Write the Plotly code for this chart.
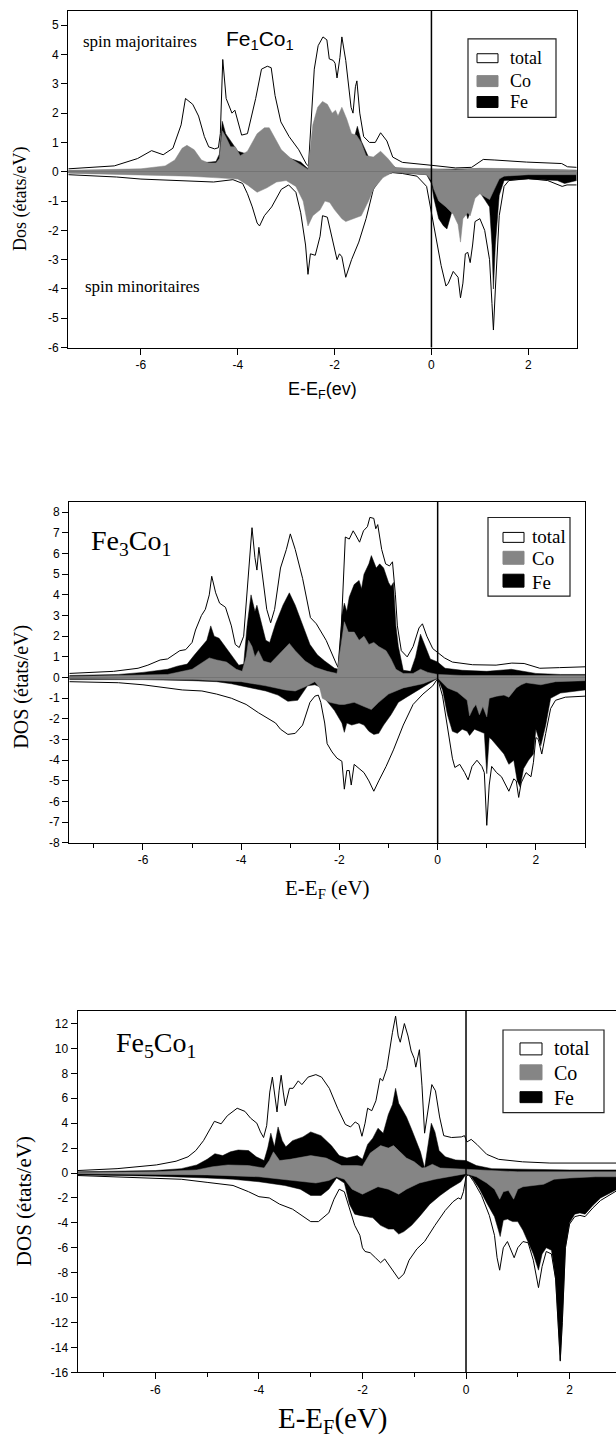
import plotly.graph_objects as go

# ---------------- DATA (energy E-EF in eV, DOS in states/eV) ----------------
# Panel 1 : Fe1Co1
p1_tot_up = [(-7.5,0.1),(-6.55,0.2),(-6.07,0.45),(-5.78,0.72),(-5.54,0.58),(-5.34,0.8),(-5.17,1.6),(-5.08,2.5),(-4.93,2.3),(-4.81,1.9),(-4.69,1.2),(-4.6,0.85),(-4.48,0.78),(-4.4,0.82),(-4.36,1.3),(-4.31,3.83),(-4.24,2.5),(-4.12,2.0),(-4.06,2.1),(-4.0,1.7),(-3.92,1.25),(-3.8,1.3),(-3.63,2.5),(-3.51,3.5),(-3.39,3.6),(-3.31,3.55),(-3.23,2.6),(-3.11,1.7),(-2.94,1.2),(-2.74,0.75),(-2.58,0.25),(-2.54,0.2),(-2.42,3.5),(-2.34,4.3),(-2.24,4.6),(-2.16,4.5),(-2.11,3.85),(-2.03,3.8),(-1.99,3.7),(-1.95,3.2),(-1.89,3.9),(-1.85,4.6),(-1.77,3.8),(-1.66,2.2),(-1.62,2.0),(-1.57,2.9),(-1.54,3.1),(-1.48,2.0),(-1.4,1.2),(-1.28,1.0),(-1.16,1.0),(-1.05,1.33),(-0.92,1.05),(-0.8,0.5),(-0.6,0.32),(0.0,0.22),(0.26,0.17),(0.5,0.13),(0.83,0.15),(0.95,0.3),(1.07,0.42),(1.31,0.4),(1.96,0.33),(2.69,0.28),(2.81,0.17),(3.0,0.15)]
p1_co_up = [(-7.5,0.05),(-6.5,0.08),(-6,0.1),(-5.5,0.2),(-5.3,0.4),(-5.15,0.8),(-5.05,0.9),(-4.9,0.75),(-4.75,0.4),(-4.6,0.3),(-4.45,0.3),(-4.38,0.45),(-4.32,1.4),(-4.25,1.2),(-4.15,0.85),(-4.05,0.85),(-3.95,0.55),(-3.8,0.7),(-3.6,1.3),(-3.45,1.5),(-3.35,1.5),(-3.25,1.2),(-3.1,0.75),(-2.9,0.45),(-2.7,0.25),(-2.55,0.08),(-2.45,1.6),(-2.35,2.2),(-2.25,2.4),(-2.15,2.3),(-2.05,2.0),(-1.98,2.1),(-1.93,1.9),(-1.85,2.2),(-1.75,1.8),(-1.65,1.3),(-1.55,1.25),(-1.45,1.0),(-1.35,0.55),(-1.2,0.5),(-1.05,0.7),(-0.9,0.45),(-0.75,0.15),(-0.5,0.12),(0,0.1),(0.5,0.07),(1.0,0.12),(1.5,0.12),(2.0,0.1),(3.0,0.05)]
p1_fe_up = [(-7.5,0.03),(-6,0.06),(-5.3,0.2),(-5.05,0.4),(-4.75,0.3),(-4.45,0.35),(-4.38,0.6),(-4.32,1.72),(-4.25,1.3),(-4.1,0.95),(-4.0,0.7),(-3.8,0.6),(-3.5,0.9),(-3.2,0.8),(-3.0,0.5),(-2.7,0.33),(-2.55,0.1),(-2.45,1.0),(-2.3,1.5),(-2.0,1.5),(-1.75,1.1),(-1.62,1.0),(-1.53,1.55),(-1.45,1.05),(-1.3,0.5),(-1.0,0.4),(-0.7,0.1),(0,0.08),(1.0,0.1),(3.0,0.05)]
p1_tot_dn = [(-7.5,-0.1),(-6.5,-0.18),(-6,-0.25),(-5,-0.33),(-4.5,-0.35),(-4.1,-0.27),(-3.9,-0.4),(-3.8,-0.75),(-3.7,-1.2),(-3.6,-1.75),(-3.55,-1.85),(-3.45,-1.5),(-3.3,-1.2),(-3.1,-0.6),(-2.95,-0.45),(-2.8,-0.7),(-2.7,-1.4),(-2.6,-2.5),(-2.55,-3.5),(-2.5,-2.8),(-2.4,-2.85),(-2.3,-2.2),(-2.25,-1.5),(-2.15,-1.55),(-2.05,-2.3),(-1.95,-3.0),(-1.9,-2.8),(-1.85,-2.9),(-1.77,-3.6),(-1.65,-3.0),(-1.5,-2.4),(-1.35,-1.6),(-1.2,-0.6),(-1.0,-0.12),(-0.8,-0.03),(-0.6,-0.06),(-0.3,-0.15),(-0.1,-0.5),(0,-1.4),(0.1,-2.3),(0.2,-3.2),(0.3,-3.9),(0.35,-3.8),(0.45,-3.4),(0.55,-3.6),(0.6,-4.3),(0.65,-3.8),(0.7,-2.8),(0.75,-2.75),(0.8,-3.1),(0.85,-2.5),(0.9,-1.7),(1.0,-1.6),(1.1,-2.0),(1.2,-3.0),(1.25,-4.5),(1.28,-5.4),(1.32,-4.0),(1.4,-1.5),(1.5,-0.5),(1.6,-0.3),(2.0,-0.23),(2.4,-0.3),(2.7,-0.5),(2.8,-0.45),(3.0,-0.45)]
p1_co_dn = [(-7.5,-0.05),(-6,-0.1),(-5,-0.15),(-4.5,-0.2),(-4.0,-0.25),(-3.8,-0.45),(-3.6,-0.7),(-3.4,-0.55),(-3.2,-0.35),(-3.0,-0.3),(-2.8,-0.5),(-2.65,-1.0),(-2.55,-1.85),(-2.45,-1.5),(-2.3,-1.3),(-2.2,-1.0),(-2.1,-1.05),(-2.0,-1.3),(-1.85,-1.6),(-1.77,-1.7),(-1.6,-1.6),(-1.45,-1.5),(-1.3,-1.0),(-1.2,-0.6),(-1.0,-0.2),(-0.8,-0.02),(-0.5,-0.05),(-0.1,-0.1),(0,-0.3),(0.05,-0.6),(0.15,-1.0),(0.3,-1.2),(0.45,-1.45),(0.55,-1.8),(0.6,-2.4),(0.65,-1.6),(0.75,-1.4),(0.8,-1.5),(0.9,-0.9),(1.0,-0.75),(1.1,-0.85),(1.2,-0.95),(1.3,-0.6),(1.4,-0.25),(1.5,-0.15),(2,-0.1),(3,-0.1)]
p1_fe_dn = [(-7.5,-0.03),(-5,-0.1),(-4,-0.2),(-3,-0.25),(-2.5,-0.6),(-2,-0.8),(-1.5,-0.6),(-1,-0.1),(-0.8,-0.02),(-0.1,-0.1),(0,-0.4),(0.05,-0.9),(0.15,-1.6),(0.25,-1.85),(0.32,-1.95),(0.38,-1.6),(0.45,-1.2),(0.55,-1.0),(0.7,-1.3),(0.75,-1.6),(0.82,-1.3),(0.9,-0.65),(1.0,-0.7),(1.1,-0.95),(1.2,-1.2),(1.25,-2.5),(1.28,-4.0),(1.32,-2.5),(1.4,-0.8),(1.5,-0.3),(2,-0.25),(2.6,-0.3),(2.75,-0.4),(3,-0.3)]

# Panel 2 : Fe3Co1
p2_tot_up = [(-7.5,0.2),(-6.6,0.3),(-6.1,0.45),(-5.9,0.6),(-5.65,0.85),(-5.5,0.9),(-5.25,1.3),(-5.13,1.35),(-5.0,1.7),(-4.93,2.3),(-4.81,3.0),(-4.73,3.3),(-4.65,4.0),(-4.6,4.9),(-4.52,4.1),(-4.44,3.6),(-4.32,3.4),(-4.2,2.5),(-4.12,1.6),(-4.04,1.45),(-3.95,2.0),(-3.86,5.0),(-3.78,7.25),(-3.72,5.8),(-3.68,5.2),(-3.64,6.3),(-3.56,4.8),(-3.48,3.3),(-3.4,2.65),(-3.32,3.3),(-3.2,5.3),(-3.08,6.2),(-3.0,6.95),(-2.9,6.2),(-2.75,4.8),(-2.59,2.9),(-2.47,2.6),(-2.27,1.8),(-2.07,0.7),(-2.03,0.5),(-1.96,2.5),(-1.88,6.8),(-1.8,6.7),(-1.72,7.1),(-1.67,6.9),(-1.59,6.55),(-1.51,7.1),(-1.43,7.3),(-1.38,7.75),(-1.3,7.7),(-1.26,7.2),(-1.22,7.4),(-1.14,6.2),(-1.06,5.5),(-0.98,5.4),(-0.92,5.6),(-0.86,4.0),(-0.82,2.5),(-0.74,1.3),(-0.62,1.0),(-0.5,1.5),(-0.38,2.4),(-0.31,2.6),(-0.22,2.0),(-0.1,1.4),(0,1.2),(0.14,0.95),(0.3,0.75),(0.71,0.62),(1.19,0.6),(1.51,0.7),(1.76,0.68),(2.08,0.45),(2.48,0.48),(3.0,0.52)]
p2_co_up = [(-7.5,0.05),(-6,0.1),(-5.5,0.15),(-5,0.4),(-4.8,0.7),(-4.65,0.95),(-4.5,0.85),(-4.3,0.75),(-4.1,0.4),(-3.98,0.3),(-3.9,1.0),(-3.85,1.8),(-3.78,1.5),(-3.72,1.0),(-3.65,1.3),(-3.55,0.8),(-3.4,0.7),(-3.2,1.2),(-3.02,1.65),(-2.9,1.3),(-2.7,0.8),(-2.5,0.5),(-2.25,0.3),(-2.05,0.2),(-1.98,1.5),(-1.9,2.7),(-1.82,2.2),(-1.7,2.2),(-1.6,1.8),(-1.5,2.0),(-1.4,1.6),(-1.3,1.7),(-1.2,1.5),(-1.05,1.3),(-0.95,0.9),(-0.85,0.4),(-0.7,0.2),(-0.5,0.2),(-0.35,0.4),(-0.2,0.25),(0,0.15),(0.5,0.1),(1.5,0.1),(3.0,0.1)]
p2_fe_up = [(-7.5,0.1),(-6.5,0.15),(-6,0.25),(-5.5,0.4),(-5.3,0.55),(-5.1,0.65),(-4.95,1.1),(-4.8,1.55),(-4.7,1.8),(-4.62,2.5),(-4.55,2.0),(-4.45,1.9),(-4.3,1.4),(-4.15,0.95),(-4.05,0.6),(-3.95,0.65),(-3.88,2.5),(-3.8,4.0),(-3.72,3.2),(-3.68,3.5),(-3.6,2.8),(-3.5,1.8),(-3.42,1.7),(-3.3,2.6),(-3.15,3.5),(-3.02,4.1),(-2.9,3.5),(-2.75,2.5),(-2.6,1.6),(-2.45,1.1),(-2.3,0.8),(-2.1,0.45),(-2.02,0.4),(-1.95,3.0),(-1.9,3.6),(-1.85,3.2),(-1.8,3.9),(-1.7,4.5),(-1.6,4.7),(-1.55,4.3),(-1.5,5.0),(-1.4,5.5),(-1.35,5.9),(-1.25,5.3),(-1.18,5.5),(-1.1,5.3),(-1.0,4.6),(-0.95,4.4),(-0.9,4.6),(-0.85,2.5),(-0.8,1.5),(-0.7,0.35),(-0.55,0.3),(-0.45,1.0),(-0.35,2.1),(-0.25,1.5),(-0.15,0.9),(0,0.75),(0.15,0.45),(0.5,0.35),(1.0,0.3),(1.5,0.4),(2.0,0.2),(2.5,0.15),(3.0,0.15)]
p2_tot_dn = [(-7.5,-0.2),(-6.5,-0.25),(-6.0,-0.35),(-5.5,-0.5),(-5.2,-0.6),(-4.8,-0.65),(-4.5,-0.8),(-4.2,-1.0),(-3.9,-1.3),(-3.65,-1.7),(-3.45,-2.0),(-3.3,-2.2),(-3.2,-2.5),(-3.05,-2.75),(-2.9,-2.7),(-2.75,-2.3),(-2.6,-1.2),(-2.5,-0.9),(-2.43,-0.85),(-2.38,-1.2),(-2.3,-2.2),(-2.25,-3.2),(-2.15,-3.6),(-2.05,-3.9),(-1.95,-4.05),(-1.9,-5.4),(-1.85,-4.5),(-1.8,-4.5),(-1.76,-5.2),(-1.7,-4.2),(-1.6,-4.4),(-1.5,-4.6),(-1.4,-5.0),(-1.3,-5.5),(-1.2,-5.0),(-1.05,-4.3),(-0.9,-3.5),(-0.7,-2.3),(-0.5,-1.3),(-0.3,-0.8),(-0.1,-0.4),(0,-0.05),(0.1,-0.9),(0.2,-2.3),(0.3,-3.9),(0.35,-4.35),(0.45,-4.2),(0.55,-4.6),(0.62,-4.95),(0.7,-4.3),(0.8,-4.0),(0.9,-4.3),(0.95,-4.6),(1.0,-7.15),(1.05,-5.2),(1.1,-4.3),(1.2,-4.6),(1.3,-4.8),(1.4,-5.3),(1.45,-5.5),(1.55,-4.9),(1.6,-5.0),(1.65,-5.8),(1.7,-5.1),(1.8,-4.6),(1.9,-4.8),(1.95,-4.1),(2.0,-2.9),(2.05,-3.0),(2.12,-3.7),(2.2,-2.7),(2.3,-1.5),(2.4,-1.1),(2.6,-0.95),(3.0,-0.9)]
p2_co_dn = [(-7.5,-0.05),(-6,-0.07),(-5,-0.1),(-4,-0.2),(-3.5,-0.4),(-3.1,-0.6),(-2.9,-0.65),(-2.7,-0.45),(-2.5,-0.2),(-2.4,-0.5),(-2.35,-1.0),(-2.2,-1.2),(-2.0,-1.3),(-1.9,-1.3),(-1.7,-1.2),(-1.5,-1.4),(-1.35,-1.55),(-1.2,-1.2),(-1.0,-0.8),(-0.7,-0.5),(-0.3,-0.3),(0,-0.02),(0.2,-0.5),(0.4,-0.7),(0.6,-1.1),(0.65,-1.85),(0.72,-1.5),(0.78,-1.3),(0.85,-1.8),(0.92,-1.4),(1.0,-1.9),(1.05,-1.0),(1.2,-0.9),(1.35,-0.85),(1.45,-0.95),(1.6,-0.5),(1.7,-0.35),(1.8,-0.25),(2.0,-0.3),(2.1,-0.35),(2.4,-0.2),(3.0,-0.15)]
p2_fe_dn = [(-7.5,-0.1),(-6,-0.1),(-5,-0.15),(-4.5,-0.2),(-4.2,-0.3),(-3.9,-0.45),(-3.5,-0.65),(-3.25,-0.85),(-3.05,-1.15),(-2.85,-1.1),(-2.65,-0.4),(-2.5,-0.35),(-2.4,-0.45),(-2.3,-1.0),(-2.2,-1.3),(-2.1,-1.6),(-1.95,-2.2),(-1.9,-2.65),(-1.85,-2.2),(-1.75,-2.3),(-1.6,-2.2),(-1.5,-2.3),(-1.4,-2.6),(-1.3,-2.75),(-1.2,-2.7),(-1.1,-2.3),(-0.95,-1.8),(-0.8,-1.2),(-0.6,-0.9),(-0.4,-0.6),(-0.2,-0.3),(0,-0.03),(0.1,-0.6),(0.2,-1.8),(0.3,-2.6),(0.4,-2.7),(0.5,-2.5),(0.6,-2.6),(0.65,-2.8),(0.75,-2.5),(0.85,-2.6),(0.95,-2.7),(1.0,-4.65),(1.05,-2.9),(1.1,-3.0),(1.2,-3.3),(1.35,-3.7),(1.45,-4.2),(1.55,-4.0),(1.62,-5.0),(1.68,-5.3),(1.75,-4.4),(1.85,-4.0),(1.95,-3.7),(2.0,-2.5),(2.05,-2.9),(2.1,-3.3),(2.2,-2.3),(2.3,-1.0),(2.5,-0.75),(3.0,-0.6)]

# Panel 3 : Fe5Co1
p3_tot_up = [(-7.5,0.2),(-6.74,0.35),(-5.98,0.65),(-5.6,0.95),(-5.37,1.3),(-5.22,1.8),(-5.07,2.6),(-4.95,3.5),(-4.86,4.15),(-4.73,3.95),(-4.61,4.6),(-4.42,5.2),(-4.27,4.95),(-4.16,4.4),(-4.04,4.0),(-3.97,3.3),(-3.91,2.85),(-3.85,3.8),(-3.79,6.5),(-3.74,7.7),(-3.7,6.5),(-3.65,4.9),(-3.61,6.6),(-3.57,7.85),(-3.53,6.5),(-3.49,5.4),(-3.41,6.8),(-3.34,6.8),(-3.24,7.4),(-3.17,7.1),(-3.05,7.7),(-2.9,7.9),(-2.79,7.7),(-2.64,6.8),(-2.48,5.2),(-2.33,3.9),(-2.23,3.7),(-2.14,4.1),(-2.07,3.9),(-2.01,2.95),(-1.95,4.0),(-1.9,5.2),(-1.82,5.0),(-1.74,5.8),(-1.66,7.6),(-1.61,7.4),(-1.53,8.4),(-1.46,10.5),(-1.42,11.3),(-1.36,12.6),(-1.31,11.0),(-1.27,10.5),(-1.19,12.0),(-1.12,11.0),(-1.06,9.8),(-1.0,9.2),(-0.97,8.5),(-0.9,9.9),(-0.85,7.0),(-0.8,3.2),(-0.74,5.0),(-0.66,7.1),(-0.59,6.6),(-0.51,4.5),(-0.43,3.0),(-0.28,2.85),(-0.09,2.9),(-0.03,3.0),(0.02,2.5),(0.1,2.7),(0.21,2.3),(0.4,1.5),(0.63,1.1),(1.09,0.9),(1.62,0.8),(2.9,0.8)]
p3_co_up = [(-7.5,0.05),(-6,0.1),(-5.2,0.25),(-4.9,0.5),(-4.6,0.65),(-4.2,0.6),(-3.9,0.4),(-3.8,1.0),(-3.72,1.7),(-3.6,1.0),(-3.4,1.1),(-3.0,1.4),(-2.7,1.2),(-2.4,0.6),(-2.1,0.6),(-2.0,0.55),(-1.85,1.6),(-1.65,2.2),(-1.5,2.0),(-1.4,2.2),(-1.3,1.8),(-1.15,1.2),(-1.0,0.9),(-0.85,0.4),(-0.78,0.45),(-0.65,0.7),(-0.5,0.4),(0,0.3),(0.5,0.15),(1,0.1),(2.9,0.1)]
p3_fe_up = [(-7.5,0.1),(-6,0.2),(-5.5,0.35),(-5.2,0.65),(-5.0,1.1),(-4.85,1.55),(-4.7,1.4),(-4.55,1.7),(-4.4,1.85),(-4.2,1.8),(-4.05,1.3),(-3.9,1.0),(-3.83,2.0),(-3.77,3.2),(-3.7,2.1),(-3.63,3.7),(-3.55,2.6),(-3.48,2.1),(-3.35,2.6),(-3.15,2.9),(-3.0,3.3),(-2.8,3.0),(-2.6,2.2),(-2.45,1.4),(-2.3,1.2),(-2.1,1.4),(-2.0,1.1),(-1.9,2.3),(-1.8,2.8),(-1.7,3.6),(-1.6,3.2),(-1.5,4.7),(-1.42,5.5),(-1.36,6.8),(-1.3,5.6),(-1.22,5.0),(-1.15,4.5),(-1.05,3.5),(-0.95,2.5),(-0.88,1.7),(-0.8,0.4),(-0.73,2.5),(-0.67,4.0),(-0.6,3.3),(-0.52,1.8),(-0.4,1.3),(-0.2,1.05),(0,1.0),(0.2,0.6),(0.5,0.35),(1,0.3),(2,0.25),(2.9,0.25)]
p3_tot_dn = [(-7.5,-0.2),(-6.5,-0.35),(-5.5,-0.5),(-5.0,-0.75),(-4.5,-1.0),(-4.2,-1.5),(-4.0,-1.9),(-3.8,-2.0),(-3.6,-2.5),(-3.35,-2.9),(-3.15,-3.5),(-3.0,-3.9),(-2.85,-3.9),(-2.65,-3.2),(-2.55,-2.1),(-2.45,-1.3),(-2.35,-1.5),(-2.25,-2.8),(-2.15,-4.2),(-2.05,-5.0),(-2.0,-6.0),(-1.95,-6.3),(-1.85,-6.4),(-1.75,-6.8),(-1.65,-7.2),(-1.57,-6.9),(-1.5,-7.3),(-1.4,-7.9),(-1.3,-8.5),(-1.2,-8.1),(-1.1,-7.0),(-0.95,-6.1),(-0.8,-5.5),(-0.6,-4.2),(-0.4,-3.0),(-0.25,-2.3),(-0.15,-2.0),(-0.1,-2.1),(-0.05,-1.5),(0.0,-0.3),(0.05,-0.1),(0.15,-0.7),(0.3,-1.8),(0.45,-3.4),(0.55,-5.0),(0.6,-6.8),(0.65,-7.8),(0.72,-6.0),(0.8,-5.5),(0.85,-6.0),(0.93,-6.8),(1.0,-6.0),(1.1,-5.5),(1.2,-5.6),(1.3,-7.0),(1.4,-9.2),(1.47,-7.5),(1.55,-6.3),(1.65,-6.5),(1.73,-8.5),(1.78,-12.0),(1.82,-15.1),(1.86,-12.0),(1.92,-6.0),(2.0,-4.1),(2.1,-3.5),(2.2,-3.4),(2.3,-3.5),(2.45,-2.8),(2.6,-2.2),(2.9,-1.45)]
p3_co_dn = [(-7.5,-0.05),(-6,-0.1),(-5,-0.15),(-4,-0.3),(-3.5,-0.5),(-3.1,-0.7),(-2.9,-0.8),(-2.65,-0.6),(-2.5,-0.3),(-2.35,-0.5),(-2.2,-1.3),(-2.0,-1.7),(-1.85,-1.4),(-1.7,-1.1),(-1.5,-1.3),(-1.3,-1.7),(-1.15,-1.3),(-0.9,-0.8),(-0.6,-0.5),(-0.3,-0.3),(0,-0.05),(0.2,-0.3),(0.4,-0.8),(0.55,-1.3),(0.65,-2.1),(0.72,-1.5),(0.82,-1.4),(0.92,-2.1),(1.0,-1.3),(1.1,-1.1),(1.3,-1.0),(1.5,-0.9),(1.7,-0.5),(2.0,-0.4),(2.5,-0.3),(2.9,-0.3)]
p3_fe_dn = [(-7.5,-0.15),(-6,-0.25),(-5,-0.4),(-4.5,-0.5),(-4.0,-0.7),(-3.5,-1.0),(-3.2,-1.3),(-3.0,-1.8),(-2.8,-1.8),(-2.65,-1.3),(-2.5,-0.4),(-2.35,-0.8),(-2.25,-2.5),(-2.15,-3.3),(-2.05,-3.4),(-1.95,-3.5),(-1.8,-3.6),(-1.65,-4.2),(-1.5,-4.5),(-1.4,-4.5),(-1.3,-4.9),(-1.2,-4.7),(-1.05,-4.2),(-0.9,-3.5),(-0.7,-2.5),(-0.5,-1.8),(-0.3,-1.2),(-0.1,-0.7),(0,-0.1),(0.1,-0.3),(0.25,-1.2),(0.4,-2.4),(0.55,-3.5),(0.62,-4.5),(0.66,-5.1),(0.72,-3.8),(0.8,-3.7),(0.9,-3.9),(1.0,-3.9),(1.1,-4.6),(1.2,-5.5),(1.3,-6.5),(1.4,-7.8),(1.47,-6.5),(1.55,-6.0),(1.65,-6.2),(1.73,-8.5),(1.78,-12.0),(1.82,-15.0),(1.86,-12.0),(1.92,-6.0),(2.0,-4.0),(2.1,-3.3),(2.2,-3.2),(2.3,-3.3),(2.45,-2.6),(2.6,-2.0),(2.9,-1.35)]

legend_labels = ["total", "Co", "Fe"]
p1_xticks = [-6, -4, -2, 0, 2]
p1_yticks = list(range(-6, 6))
p2_xticks = [-6, -4, -2, 0, 2]
p2_yticks = list(range(-8, 9))
p3_xticks = [-6, -4, -2, 0, 2]
p3_yticks = list(range(-16, 13, 2))
minor_xticks = [-7, -5, -3, -1, 1, 3]

# ---------------- LAYOUT HELPERS ----------------
W, H = 616, 1448
def px(x):
    return x / W
def py(y):
    return 1 - y / H

SERIF = "Liberation Serif, Times New Roman, serif"
SANS = "Liberation Sans, Arial, sans-serif"
GRAY = "#858585"
SWATCH_FILL = {"total": "white", "Co": GRAY, "Fe": "black"}

fig = go.Figure()

panels = [
    dict(n="", data=(p1_tot_up, p1_tot_dn, p1_fe_up, p1_fe_dn, p1_co_up, p1_co_dn)),
    dict(n="2", data=(p2_tot_up, p2_tot_dn, p2_fe_up, p2_fe_dn, p2_co_up, p2_co_dn)),
    dict(n="3", data=(p3_tot_up, p3_tot_dn, p3_fe_up, p3_fe_dn, p3_co_up, p3_co_dn)),
]

def xy(pairs):
    return [p[0] for p in pairs], [p[1] for p in pairs]

for p in panels:
    xa, ya = "x" + p["n"], "y" + p["n"]
    tu, td, fu, fd, cu, cd = p["data"]
    for pairs, name in ((tu, "total"), (td, "total")):
        x, y = xy(pairs)
        fig.add_trace(go.Scatter(x=x, y=y, mode="lines", fill="tozeroy", fillcolor="white", name=name,
                                 line=dict(color="black", width=1), showlegend=False,
                                 xaxis=xa, yaxis=ya, hoverinfo="skip"))
    for pairs in (fu, fd):
        x, y = xy(pairs)
        fig.add_trace(go.Scatter(x=x, y=y, mode="lines", fill="tozeroy", fillcolor="black", name="Fe",
                                 line=dict(color="black", width=0.5), showlegend=False,
                                 xaxis=xa, yaxis=ya, hoverinfo="skip"))
    for pairs in (cu, cd):
        x, y = xy(pairs)
        fig.add_trace(go.Scatter(x=x, y=y, mode="lines", fill="tozeroy", fillcolor=GRAY, name="Co",
                                 line=dict(color=GRAY, width=0.5), showlegend=False,
                                 xaxis=xa, yaxis=ya, hoverinfo="skip"))

def axis(domain, rng, ticks, mirror=True, minor=None):
    d = dict(domain=domain, range=rng, tickmode="array", tickvals=ticks,
             ticktext=[str(t) for t in ticks], showline=True, linecolor="black",
             linewidth=1.3, mirror=mirror, ticks="outside", ticklen=6, tickwidth=1.2,
             tickcolor="black", showgrid=False, zeroline=False, fixedrange=True,
             tickfont=dict(family=SANS, size=12, color="black"))
    if minor:
        d["minor"] = dict(tickmode="array", tickvals=minor, ticks="outside", ticklen=4,
                          tickwidth=1.2, tickcolor="black", showgrid=False)
    return d

fig.update_layout(
    width=W, height=H, margin=dict(l=0, r=0, t=0, b=0),
    paper_bgcolor="white", plot_bgcolor="white", showlegend=False,
    xaxis=dict(axis([px(68.3), px(576.7)], [-7.5, 3.0], p1_xticks), anchor="y"),
    yaxis=dict(axis([py(349.3), py(11)], [-6, 5.486], p1_yticks), anchor="x"),
    xaxis2=dict(axis([px(69.3), px(585)], [-7.5, 3.0], p2_xticks, minor=minor_xticks), anchor="y2"),
    yaxis2=dict(axis([py(847), py(504.3)], [-8, 8.5], p2_yticks), anchor="x2"),
    xaxis3=dict(axis([px(77.7), 1.0], [-7.5, 2.897], p3_xticks, minor=minor_xticks), anchor="y3"),
    yaxis3=dict(axis([py(1379), py(1016)], [-16, 13.0], p3_yticks, mirror=False), anchor="x3"),
)

# Fermi level lines
for n in ["", "2", "3"]:
    fig.add_shape(type="line", xref="x" + n, yref="y" + n + " domain", x0=0, x1=0, y0=0, y1=1,
                  line=dict(color="black", width=1.5))

def ann(text, x, y, size, family, xanchor="center", angle=0):
    fig.add_annotation(text=text, x=px(x), y=py(y), xref="paper", yref="paper",
                       xanchor=xanchor, yanchor="middle", showarrow=False, textangle=angle,
                       font=dict(family=family, size=size, color="black"))

def rect(x0, y0, x1, y1, fill, line_color, lw):
    fig.add_shape(type="rect", xref="paper", yref="paper", x0=px(x0), x1=px(x1), y0=py(y1), y1=py(y0),
                  fillcolor=fill, line=dict(color=line_color, width=lw), layer="above")

# legend boxes: (box x0, y0, x1, y1), swatch x-range, swatch y-ranges, text x, text y centres, font size
legends = [
    ((468, 39, 556, 118), (477, 498), [(54, 63), (76, 87), (97, 108)], 508, [58.5, 81.5, 102.5], 18),
    ((488, 520, 570, 599), (503, 524), [(535, 545), (554, 567), (577, 590)], 529.5, [539, 561, 585], 19),
    ((503, 1035, 604, 1118), (520, 542), [(1048, 1060), (1070, 1085), (1097, 1108)], 552, [1053, 1078, 1103], 20),
]
for box, (sx0, sx1), srows, tx, trows, fs in legends:
    rect(box[0], box[1], box[2], box[3], "white", "#222", 1.2)
    for lab, (sy0, sy1), ty in zip(legend_labels, srows, trows):
        rect(sx0, sy0, sx1, sy1, SWATCH_FILL[lab], "black" if lab != "Co" else GRAY, 1)
        ann(lab, tx, ty, fs, SERIF, xanchor="left")

# Panel 1 texts
ann("Dos (états/eV)", 20, 200, 18, SERIF, angle=-90)
ann("E-E<sub>F</sub>(ev)", 322, 392, 18, SANS)
ann("spin majoritaires", 81, 42, 17, SERIF, xanchor="left")
ann("Fe<sub>1</sub>Co<sub>1</sub>", 224, 40, 21, SANS, xanchor="left")
ann("spin minoritaires", 83, 288, 17, SERIF, xanchor="left")
# Panel 2 texts
ann("DOS (états/eV)", 22, 690, 20, SERIF, angle=-90)
ann("E-E<sub>F</sub> (eV)", 327, 893, 21, SERIF)
ann("Fe<sub>3</sub>Co<sub>1</sub>", 89, 545, 28, SERIF, xanchor="left")
# Panel 3 texts
ann("DOS (états/eV)", 24, 1207, 21, SERIF, angle=-90)
ann("E-E<sub>F</sub>(eV)", 333, 1427, 29, SERIF)
ann("Fe<sub>5</sub>Co<sub>1</sub>", 114, 1050, 28, SERIF, xanchor="left")

fig.write_html("out.html")
